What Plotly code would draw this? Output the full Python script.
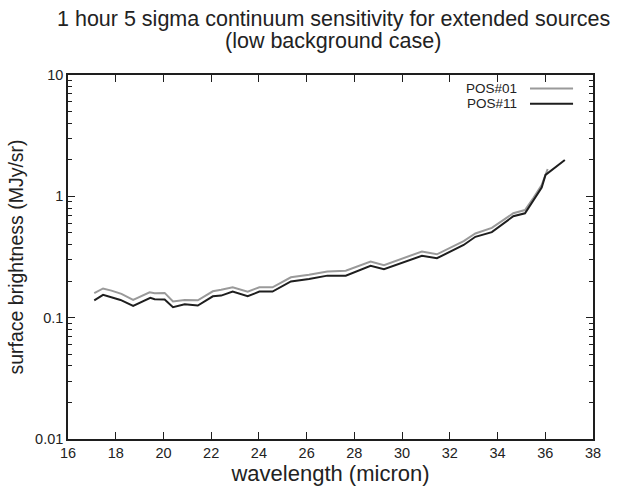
import plotly.graph_objects as go

# POS#01 (gray)
wl_01 = [17.10, 17.47, 17.82, 18.24, 18.73, 19.42, 19.63, 20.05, 20.40, 20.89, 21.44,
         22.07, 22.42, 22.90, 23.53, 24.02, 24.57, 25.34, 26.10, 26.87, 27.64, 28.68,
         29.24, 30.83, 31.46, 32.58, 33.07, 33.76, 34.66, 35.15, 35.50, 35.85, 36.10]
sb_01 = [0.159, 0.174, 0.167, 0.157, 0.140, 0.162, 0.159, 0.160, 0.136, 0.140, 0.139,
         0.165, 0.170, 0.178, 0.164, 0.178, 0.178, 0.215, 0.226, 0.240, 0.244, 0.290,
         0.271, 0.351, 0.333, 0.428, 0.494, 0.550, 0.725, 0.771, 0.967, 1.24, 1.68]

# POS#11 (black)
wl_11 = [17.10, 17.47, 18.20, 18.73, 19.45, 19.63, 20.05, 20.40, 20.89, 21.44,
         22.07, 22.42, 22.90, 23.53, 24.02, 24.57, 25.34, 26.10, 26.87, 27.64, 28.68,
         29.24, 30.83, 31.46, 32.58, 33.07, 33.76, 34.66, 35.15, 35.50, 35.85, 36.01, 36.82]
sb_11 = [0.139, 0.154, 0.140, 0.125, 0.146, 0.142, 0.141, 0.122, 0.129, 0.126,
         0.150, 0.152, 0.164, 0.150, 0.164, 0.164, 0.199, 0.208, 0.222, 0.222, 0.268,
         0.251, 0.323, 0.309, 0.397, 0.464, 0.507, 0.686, 0.725, 0.919, 1.18, 1.50, 1.99]

x_ticks = [16, 18, 20, 22, 24, 26, 28, 30, 32, 34, 36, 38]
y_ticks = [0.01, 0.1, 1, 10]
y_ticktext = ["0.01", "0.1", "1", "10"]
y_minor = [m * d for d in (0.01, 0.1, 1) for m in range(2, 10)]
series_names = ["POS#01", "POS#11"]
title_lines = ["1 hour 5 sigma continuum sensitivity for extended sources",
               "(low background case)"]
GRAY = "#9a9a9a"
BLACK = "#1e1e1e"
FONT = "Liberation Sans, Arial, sans-serif"

fig = go.Figure()
fig.add_trace(go.Scatter(x=wl_01, y=sb_01, mode="lines", name=series_names[0],
                         line=dict(color=GRAY, width=2)))
fig.add_trace(go.Scatter(x=wl_11, y=sb_11, mode="lines", name=series_names[1],
                         line=dict(color=BLACK, width=2)))

axis_common = dict(showline=True, linecolor=BLACK, linewidth=1.5, mirror="ticks",
                   ticks="inside", tickcolor=BLACK, tickwidth=1, showgrid=False,
                   zeroline=False, tickfont=dict(family=FONT, size=14.5, color="#222"))

fig.update_xaxes(range=[16, 38], tickvals=x_ticks, ticklen=7,
                 title=dict(text="wavelength (micron)", font=dict(family=FONT, size=22, color="#222"),
                            standoff=3),
                 **axis_common)
fig.update_yaxes(type="log", range=[-2, 1], tickvals=y_ticks, ticktext=y_ticktext, ticklen=7,
                 minor=dict(ticks="inside", ticklen=4, tickcolor=BLACK, tickwidth=1,
                            showgrid=False, tickmode="array", tickvals=y_minor),
                 title=dict(text="surface brightness (MJy/sr)", font=dict(family=FONT, size=19.5, color="#222"),
                            standoff=6),
                 **axis_common)

# legend drawn at top right (text left of line sample)
for i, (name, col) in enumerate(zip(series_names, [GRAY, BLACK])):
    yy = 0.9632 - i * 0.0422
    fig.add_annotation(xref="paper", yref="paper", x=0.857, y=yy, text=name, showarrow=False,
                       xanchor="right", yanchor="middle", borderpad=0,
                       font=dict(family=FONT, size=13.5, color="#222"))
    fig.add_shape(type="line", xref="paper", yref="paper", x0=0.88, x1=0.962, y0=yy, y1=yy,
                  line=dict(color=col, width=2))

# two-line title
for txt, yy in zip(title_lines, [1.1526, 1.0926]):
    fig.add_annotation(xref="paper", yref="paper", x=0.505, y=yy, text=txt, showarrow=False,
                       xanchor="center", yanchor="middle", borderpad=0,
                       font=dict(family=FONT, size=21.5, color="#222"))

fig.update_layout(
    width=625, height=492,
    margin=dict(l=68, r=32, t=75, b=50),
    paper_bgcolor="white", plot_bgcolor="white",
    showlegend=False,
)

fig.write_html("out.html")
